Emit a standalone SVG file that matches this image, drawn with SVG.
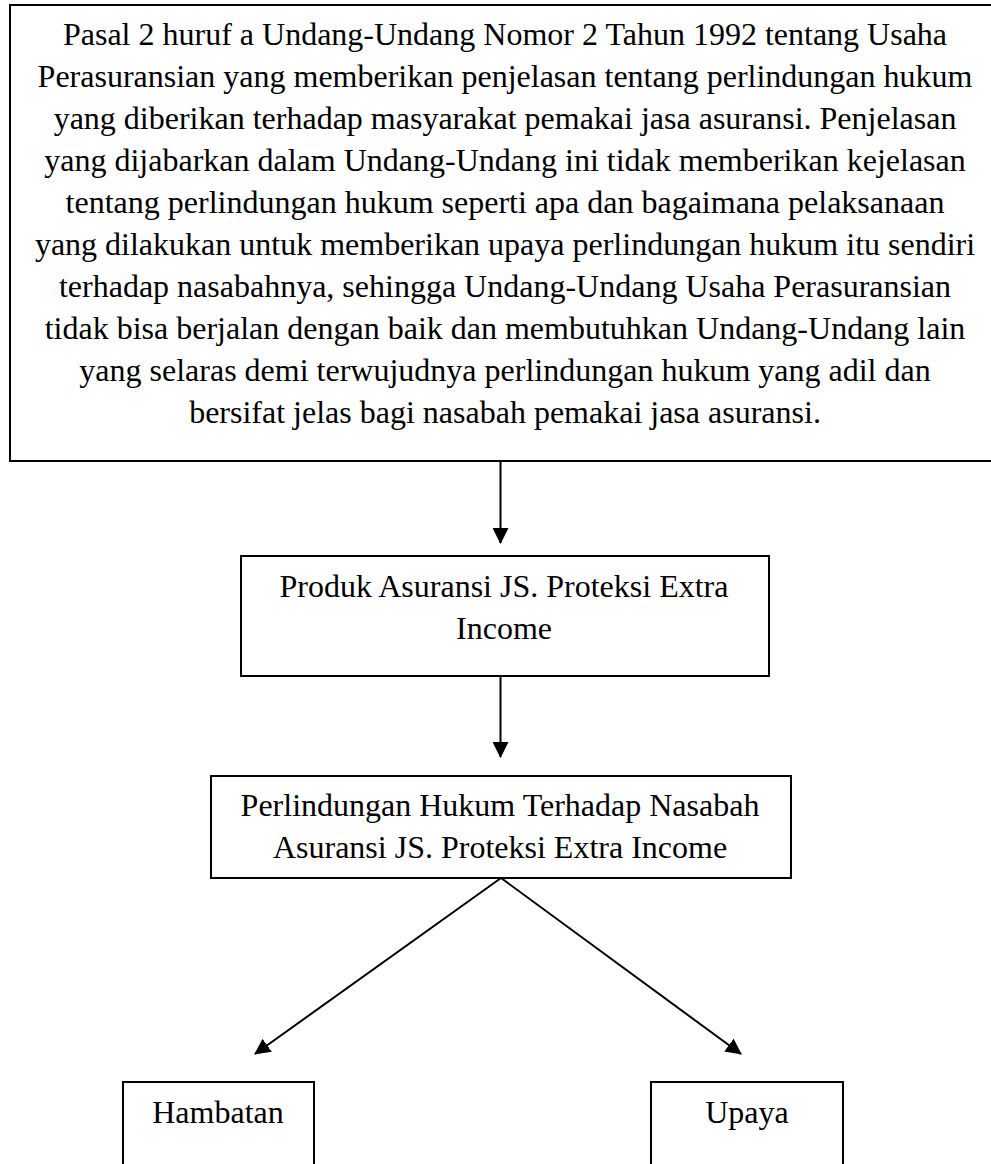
<svg xmlns="http://www.w3.org/2000/svg" width="991" height="1164" viewBox="0 0 991 1164">
<style>
.box{fill:#fff;stroke:#000;stroke-width:2}
.t{font-family:"Liberation Serif","Times New Roman",serif;font-size:32px;fill:#000;text-anchor:middle}
.c{stroke:#000;stroke-width:2;fill:none}
</style>
<defs>
<marker id="ah" markerWidth="16" markerHeight="16" viewBox="0 0 16 16" refX="15" refY="8" orient="auto" markerUnits="userSpaceOnUse">
<path d="M0,0 L16,8 L0,16 Z" fill="#000"/>
</marker>
</defs>
<rect width="991" height="1164" fill="#fff"/>
<g id="node-pasal">
<rect class="box" x="10" y="5" width="1000" height="456"/>
<text class="t" x="505" y="45">Pasal 2 huruf a Undang-Undang Nomor 2 Tahun 1992 tentang Usaha</text>
<text class="t" x="505" y="87">Perasuransian yang memberikan penjelasan tentang perlindungan hukum</text>
<text class="t" x="505" y="129">yang diberikan terhadap masyarakat pemakai jasa asuransi. Penjelasan</text>
<text class="t" x="505" y="171">yang dijabarkan dalam Undang-Undang ini tidak memberikan kejelasan</text>
<text class="t" x="505" y="213">tentang perlindungan hukum seperti apa dan bagaimana pelaksanaan</text>
<text class="t" x="505" y="255">yang dilakukan untuk memberikan upaya perlindungan hukum itu sendiri</text>
<text class="t" x="505" y="297">terhadap nasabahnya, sehingga Undang-Undang Usaha Perasuransian</text>
<text class="t" x="505" y="339">tidak bisa berjalan dengan baik dan membutuhkan Undang-Undang lain</text>
<text class="t" x="505" y="381">yang selaras demi terwujudnya perlindungan hukum yang adil dan</text>
<text class="t" x="505" y="423">bersifat jelas bagi nasabah pemakai jasa asuransi.</text>
</g>
<g id="node-produk">
<rect class="box" x="241" y="556" width="528" height="120"/>
<text class="t" x="504" y="597">Produk Asuransi JS. Proteksi Extra</text>
<text class="t" x="504" y="639">Income</text>
</g>
<g id="node-perlindungan">
<rect class="box" x="211" y="776" width="580" height="102"/>
<text class="t" x="500" y="816">Perlindungan Hukum Terhadap Nasabah</text>
<text class="t" x="500" y="858">Asuransi JS. Proteksi Extra Income</text>
</g>
<g id="node-hambatan">
<rect class="box" x="123" y="1082" width="191" height="100"/>
<text class="t" x="218" y="1123">Hambatan</text>
</g>
<g id="node-upaya">
<rect class="box" x="651" y="1082" width="192" height="100"/>
<text class="t" x="747" y="1123">Upaya</text>
</g>
<g id="connectors">
<line class="c" x1="500.5" y1="462" x2="500.5" y2="543" marker-end="url(#ah)"/>
<line class="c" x1="500.5" y1="677" x2="500.5" y2="757" marker-end="url(#ah)"/>
<line class="c" x1="501" y1="878" x2="255" y2="1054" marker-end="url(#ah)"/>
<line class="c" x1="501" y1="878" x2="741" y2="1054" marker-end="url(#ah)"/>
</g>
</svg>
